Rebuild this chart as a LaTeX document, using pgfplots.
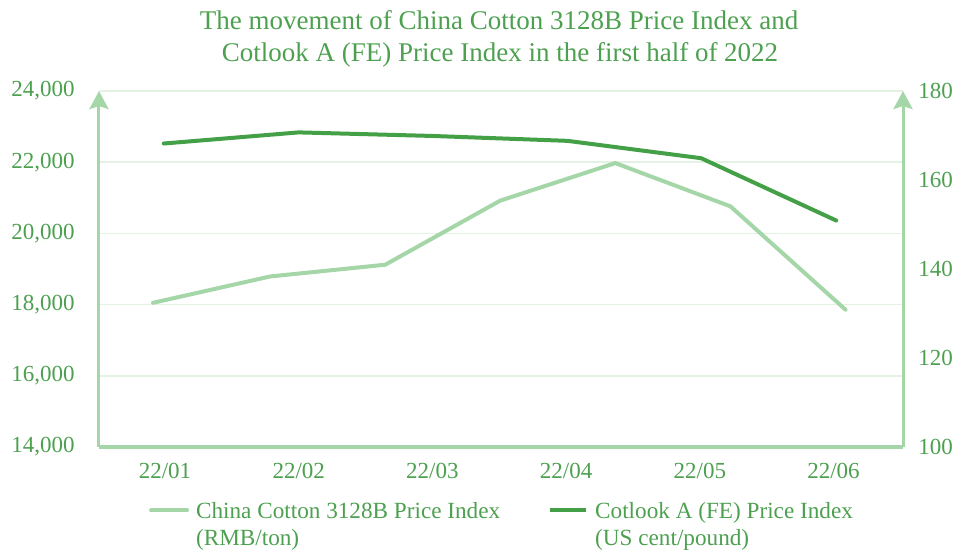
\documentclass[border=0pt]{standalone}
\usepackage{pgfplots}
\pgfplotsset{compat=1.18}
\usepackage{fontspec}
\setmainfont{Liberation Serif}
\usetikzlibrary{arrows.meta}
\definecolor{txt}{HTML}{4CA04F}
\definecolor{lightg}{HTML}{A5D6A7}
\definecolor{darkg}{HTML}{43A047}
\definecolor{gridc}{HTML}{E4F2E4}
\begin{document}
\begin{tikzpicture}
\useasboundingbox (-49.5pt,-52pt) rectangle (429.5pt,223.5pt);
\pgfplotsset{
  common/.style={
    scale only axis, width=402pt, height=178pt, at={(0pt,0pt)}, anchor=south west,
    xmin=-0.494, xmax=5.52,
    major tick length=0pt,
    tick label style={font=\fontsize{11.5}{13}\selectfont, text=txt},
    /pgf/number format/assume math mode=true,
    /pgf/number format/1000 sep={,},
    scaled y ticks=false,
  }
}
\begin{axis}[common,
  ymin=14000, ymax=24000, ytick={14000,16000,...,24000},
  axis x line*=bottom, axis y line*=left,
  x axis line style={draw=lightg, line width=2.2pt, -},
  y axis line style={draw=lightg, line width=1.5pt, -{Stealth[length=9pt, width=9.5pt, inset=1.5pt]}},
  ymajorgrids, grid style={draw=gridc, line width=0.8pt},
  xtick={0,...,5}, xticklabels={22/01,22/02,22/03,22/04,22/05,22/06},
  xticklabel style={anchor=north, inner sep=0pt, yshift=-8pt},
  yticklabel style={anchor=east, inner sep=0pt, xshift=-12pt},
  legend columns=2,
  legend style={at={(0.5,-0.1463)}, anchor=north, draw=none, fill=none, inner sep=0pt,
    font=\fontsize{11.6}{13.5}\selectfont, text=txt,
    nodes={inner sep=0pt},
    /tikz/every odd column/.append style={column sep=3.5pt},
    /tikz/every even column/.append style={column sep=24pt}},
  legend cell align=left,
  legend image code/.code={\draw[#1] (0pt,0pt) -- (18pt,0pt);},
]
\addplot[lightg, line width=2pt, line cap=round, line join=round] coordinates {
  (-0.09,18050) (0.786,18790) (1.647,19120) (2.507,20920) (3.368,21975) (4.229,20760) (5.09,17857)
};
\addlegendentry{\begin{tabular}[t]{@{}l@{}}China Cotton 3128B Price Index\\(RMB/ton)\end{tabular}}
\addlegendimage{darkg, line width=2pt}
\addlegendentry{\begin{tabular}[t]{@{}l@{}}Cotlook A (FE) Price Index\\(US cent/pound)\end{tabular}}
\end{axis}
\begin{axis}[common,
  ymin=100, ymax=180, ytick={100,120,...,180},
  axis x line=none, axis y line*=right,
  y axis line style={draw=lightg, line width=1.5pt, -{Stealth[length=9pt, width=9.5pt, inset=1.5pt]}},
  yticklabel style={anchor=west, inner sep=0pt, xshift=7.5pt},
]
\addplot[darkg, line width=2pt, line cap=round, line join=round] coordinates {
  (-0.01,168.2) (1.0,170.7) (2.0,169.9) (3.01,168.8) (4.01,164.9) (5.02,150.9)
};
\end{axis}
\node[anchor=base, text=txt, font=\fontsize{13.5}{15}\selectfont] at (200pt,208.85pt) {The movement of China Cotton 3128B Price Index and};
\node[anchor=base, text=txt, font=\fontsize{13.5}{15}\selectfont] at (200.5pt,192.65pt) {Cotlook A (FE) Price Index in the first half of 2022};
\end{tikzpicture}
\end{document}
